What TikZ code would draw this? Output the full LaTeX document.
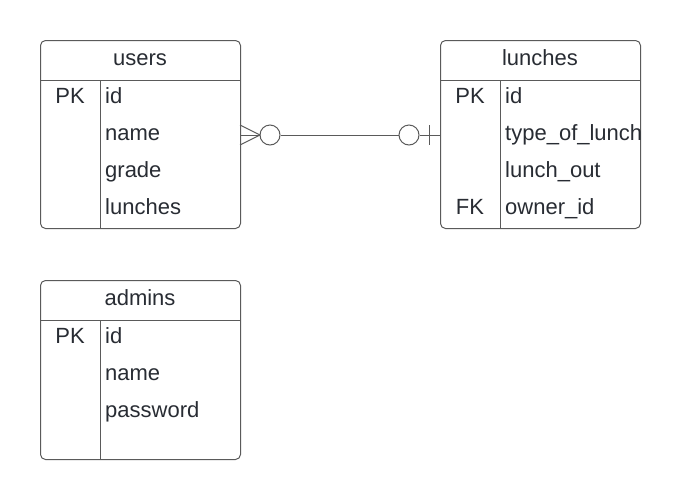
\documentclass[tikz,border=0pt]{standalone}
\usepackage{fontspec}
\setmainfont{Liberation Sans}
\definecolor{strokec}{HTML}{5A5A5A}
\definecolor{textc}{HTML}{282C33}
\begin{document}
\begin{tikzpicture}[x=1pt,y=-1pt,
  tbl/.style={draw=strokec,line width=1pt,rounded corners=5pt},
  sep/.style={draw=strokec,line width=1pt},
  title/.style={font=\fontsize{22}{24}\selectfont,text=textc,anchor=base,inner sep=0},
  key/.style={font=\fontsize{22}{24}\selectfont,text=textc,anchor=base,inner sep=0},
  field/.style={font=\fontsize{22}{24}\selectfont,text=textc,anchor=base west,inner sep=0},
  conn/.style={draw=strokec,line width=1pt}]
\useasboundingbox (0,0) rectangle (680,499);
% users
\node[tbl,minimum width=200pt,minimum height=188pt,anchor=north west] (users) at (40,40) {};
\draw[sep] (40,80) -- (240,80);
\draw[sep] (100,80) -- (100,228);
\node[title] (usersT) at (140,65) {users};
\node[key] (u1k) at (70,103.5) {PK};
\node[field] (u1) at (105,103.5) {id};
\node[field] (u2) at (105,140.5) {name};
\node[field] (u3) at (105,177.5) {grade};
\node[field] (u4) at (105,214.5) {lunches};
% lunches
\node[tbl,minimum width=200pt,minimum height=188pt,anchor=north west] (lunches) at (440,40) {};
\draw[sep] (440,80) -- (640,80);
\draw[sep] (500,80) -- (500,228);
\node[title] (lunchesT) at (540,65) {lunches};
\node[key] (l1k) at (470,103.5) {PK};
\node[field] (l1) at (505,103.5) {id};
\node[field] (l2) at (505,140.5) {type\_of\_lunch};
\node[field] (l3) at (505,177.5) {lunch\_out};
\node[key] (l4k) at (470,214.5) {FK};
\node[field] (l4) at (505,214.5) {owner\_id};
% admins
\node[tbl,minimum width=200pt,minimum height=179pt,anchor=north west] (admins) at (40,280) {};
\draw[sep] (40,320) -- (240,320);
\draw[sep] (100,320) -- (100,459);
\node[title] (adminsT) at (140,305) {admins};
\node[key] (a1k) at (70,343.5) {PK};
\node[field] (a1) at (105,343.5) {id};
\node[field] (a2) at (105,380.5) {name};
\node[field] (a3) at (105,417.5) {password};
% connector
\coordinate (cs) at (240,135);
\coordinate (ce) at (440,135);
\coordinate (cf) at (260,135);
\node[draw=strokec,line width=1pt,circle,minimum size=20pt,inner sep=0] (c1) at (270,135) {};
\node[draw=strokec,line width=1pt,circle,minimum size=20pt,inner sep=0] (c2) at (409,135) {};
\draw[conn] (240,125) -- (cf) -- (240,145);
\draw[conn] (cs) -- (cf);
\draw[conn] (c1) -- (c2);
\draw[conn] (c2) -- (ce);
\draw[conn] (429,125) -- (429,145);
\end{tikzpicture}
\end{document}
